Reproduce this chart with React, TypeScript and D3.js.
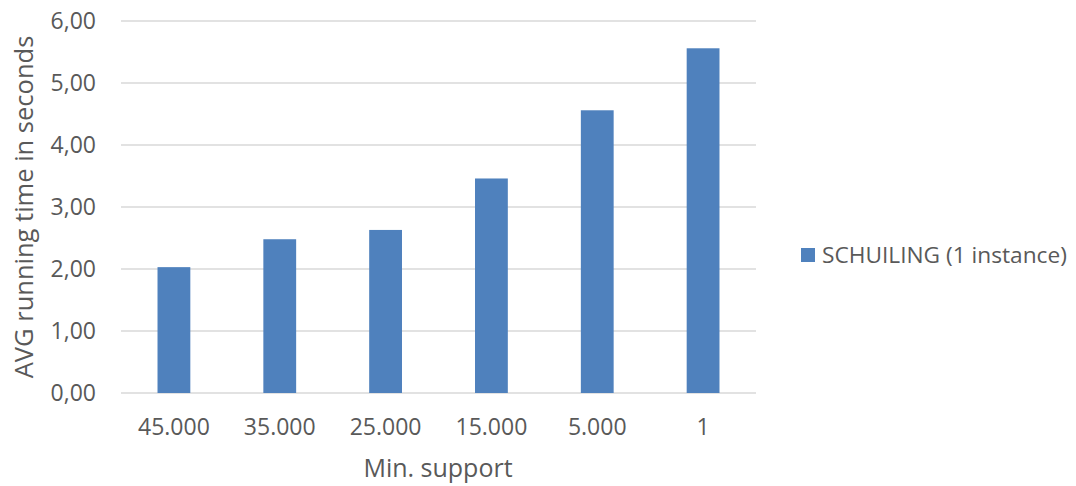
import React from "react";
import * as d3 from "d3";

// Minimum support thresholds and average running time (seconds)
const categories: string[] = ["45.000", "35.000", "25.000", "15.000", "5.000", "1"];
const runningTimes: number[] = [2.03, 2.48, 2.63, 3.46, 4.56, 5.56];
const yTicks: number[] = [0, 1, 2, 3, 4, 5, 6];
const seriesName = "SCHUILING (1 instance)";
const xTitle = "Min. support";
const yTitle = "AVG running time in seconds";

const W = 1076;
const H = 486;
const plot = { left: 121, right: 756, top: 21, bottom: 393 };
const FONT = "'Open Sans', 'DejaVu Sans', sans-serif";
const TEXT = "#595959";
const BAR = "#4f81bd";
const GRID = "#d9d9d9";

const fmt = (v: number) => v.toFixed(2).replace(".", ",");

export default function App() {
  const x = d3
    .scaleBand<string>()
    .domain(categories)
    .range([plot.left, plot.right])
    .paddingInner(0.69)
    .paddingOuter(0.345);
  const y = d3.scaleLinear().domain([0, 6]).range([plot.bottom, plot.top]);

  return (
    <svg
      width={W}
      height={H}
      style={{ position: "absolute", left: 0, top: 0, background: "#fff" }}
      fontFamily={FONT}
    >
      <rect x={0} y={0} width={W} height={H} fill="#fff" />
      {yTicks.map((t) => (
        <g key={t}>
          <line
            x1={plot.left}
            x2={plot.right}
            y1={y(t)}
            y2={y(t)}
            stroke={GRID}
            strokeWidth={1.5}
          />
          <text
            x={96}
            y={y(t)}
            dy="0.36em"
            textAnchor="end"
            fontSize={23}
            fill={TEXT}
          >
            {fmt(t)}
          </text>
        </g>
      ))}
      {categories.map((c, i) => (
        <g key={c}>
          <rect
            x={x(c)}
            y={y(runningTimes[i])}
            width={x.bandwidth()}
            height={y(0) - y(runningTimes[i])}
            fill={BAR}
          />
          <text
            x={(x(c) ?? 0) + x.bandwidth() / 2}
            y={435}
            textAnchor="middle"
            fontSize={23}
            fill={TEXT}
          >
            {c}
          </text>
        </g>
      ))}
      <text x={438} y={477} textAnchor="middle" fontSize={25} fill={TEXT}>
        {xTitle}
      </text>
      <text
        transform={`translate(33, 207) rotate(-90)`}
        textAnchor="middle"
        fontSize={25.5}
        fill={TEXT}
      >
        {yTitle}
      </text>
      <rect x={801} y={248} width={14} height={14} fill={BAR} />
      <text x={822} y={263} fontSize={22.7} fill={TEXT}>
        {seriesName}
      </text>
    </svg>
  );
}
